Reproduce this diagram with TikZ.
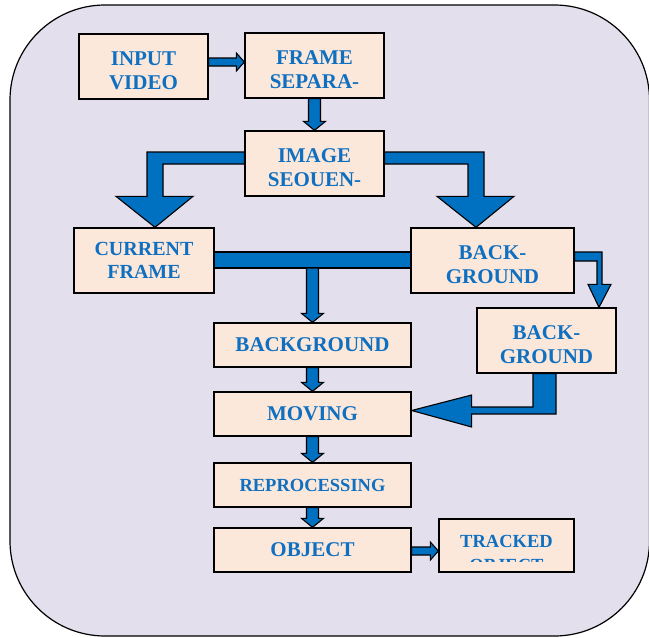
\documentclass[tikz,border=0pt]{standalone}
\usepackage{fontspec}
\setmainfont{Liberation Serif}
\usetikzlibrary{calc}
\definecolor{bgpurple}{HTML}{E4DFEC}
\definecolor{boxfill}{HTML}{FCE8DA}
\definecolor{arrblue}{HTML}{0070C0}
\definecolor{txtblue}{HTML}{0F6FC0}
\tikzset{
  box/.style={draw=black, line width=1.3pt, fill=boxfill, inner sep=0pt, align=center,
    text=txtblue, font=\fontsize{21}{24}\selectfont\bfseries},
  twoline/.style={text height=45pt, text depth=0pt},
  lbl/.style={inner sep=0pt, text=txtblue, font=\fontsize{18.5}{24}\selectfont\bfseries},
  blk/.style={draw=black, line width=1.1pt, fill=arrblue, line join=miter},
  frameout/.style={draw=black, line width=1.2pt, fill=bgpurple, rounded corners=95pt}
}
\newcommand\dnarrow[2]{\draw[blk] ($(#1)+(-6,0)$) -- ($(#1)+(6,0)$) -- ($(#2)+(6,-9)$) -- ($(#2)+(11,-9)$) -- (#2) -- ($(#2)+(-11,-9)$) -- ($(#2)+(-6,-9)$) -- cycle;}
\newcommand\rtarrow[3]{\draw[blk] ($(#1)+(0,#3-4)$) -- ($(#2 |- #1)+(-8,#3-4)$) -- ($(#2 |- #1)+(-8,#3-9)$) -- ($(#2 |- #1)+(0,#3)$) -- ($(#2 |- #1)+(-8,#3+9)$) -- ($(#2 |- #1)+(-8,#3+4)$) -- ($(#1)+(0,#3+4)$) -- cycle;}
\begin{document}
\begin{tikzpicture}[x=1pt,y=-1pt]
\useasboundingbox (0,0) rectangle (649,638);
\draw[frameout] (10,5) rectangle (649.5,636);

\node[box, twoline, minimum width=129pt, minimum height=65pt] (input) at (143.5,66.5) {INPUT\\VIDEO};
\node[box, twoline, minimum width=139pt, minimum height=65pt] (frame) at (314.5,65.5) {FRAME\\SEPARA-};
\node[box, twoline, minimum width=139pt, minimum height=65pt] (image) at (314.5,163.5) {IMAGE\\SEOUEN-};
\node[box, minimum width=140pt, minimum height=65pt, font=\fontsize{20}{23}\selectfont\bfseries] (current) at (144,260.5) {CURRENT\\FRAME};
\node[box, twoline, minimum width=163pt, minimum height=65pt] (bg1) at (492.5,260.5) {BACK-\\GROUND};
\node[box, twoline, minimum width=139pt, minimum height=65pt] (bg2) at (546.5,340.5) {BACK-\\GROUND};
\node[box, minimum width=197pt, minimum height=44pt] (bgc) at (312.5,345) {BACKGROUND};
\node[box, minimum width=197pt, minimum height=44pt] (moving) at (312.5,414) {MOVING};
\node[box, minimum width=197pt, minimum height=44pt, font=\fontsize{18.5}{22}\selectfont\bfseries] (repro) at (312.5,485) {REPROCESSING};
\node[box, minimum width=197pt, minimum height=44pt] (object) at (312.5,550) {OBJECT};
\node[box, minimum width=135pt, minimum height=53pt] (tracked) at (506.5,545.5) {};
\begin{scope}
  \clip (439,519) rectangle (574,561);
  \node[lbl, anchor=base] (trk1) at (506.5,547) {TRACKED};
  \node[lbl, anchor=base] (trk2) at (506.5,571) {OBJECT};
\end{scope}

% straight arrows
\rtarrow{input.east}{frame.west}{-4.5}
\dnarrow{frame.south}{image.north}
\dnarrow{bgc.south}{moving.north}
\dnarrow{moving.south}{repro.north}
\dnarrow{repro.south}{object.north}
\rtarrow{object.east}{tracked.west}{1}

% big elbow arrows
\draw[blk] ($(image.west)+(0,-11.5)$) -- ($(current.north |- image.west)+(3,-11.5)$) -- ($(current.north)+(3,-31)$) -- ($(current.north)+(-28,-31)$) -- ($(current.north)+(11,0)$) -- ($(current.north)+(49,-31)$) -- ($(current.north)+(19,-31)$) -- ($(current.north |- image.west)+(19,0.5)$) -- ($(image.west)+(0,0.5)$) -- cycle;
\draw[blk] ($(image.east)+(0,-11.5)$) -- ($(bg1.north |- image.east)+(-8.5,-11.5)$) -- ($(bg1.north)+(-8.5,-31)$) -- ($(bg1.north)+(21.5,-31)$) -- ($(bg1.north)+(-16.5,0)$) -- ($(bg1.north)+(-55.5,-31)$) -- ($(bg1.north)+(-24.5,-31)$) -- ($(bg1.north |- image.east)+(-24.5,0.5)$) -- ($(image.east)+(0,0.5)$) -- cycle;

% bar between current frame and background
\draw[blk] ($(current.east)+(0,-8.5)$) rectangle ($(bg1.west)+(0,7.5)$);
\coordinate (barmid) at ($(bgc.north |- current.east)+(0,7.5)$);
\dnarrow{barmid}{bgc.north}

% background -> background
\draw[blk] ($(bg1.east)+(0,-8.5)$) -- ($(bg2.north |- bg1.east)+(55.5,-8.5)$) -- ($(bg2.north)+(55.5,-23)$) -- ($(bg2.north)+(64.5,-23)$) -- ($(bg2.north)+(52.5,0)$) -- ($(bg2.north)+(41.5,-23)$) -- ($(bg2.north)+(50.5,-23)$) -- ($(bg2.north |- bg1.east)+(50.5,0.5)$) -- ($(bg1.east)+(0,0.5)$) -- cycle;

% background -> moving
\draw[blk] ($(bg2.south)+(-13.5,0)$) -- ($(bg2.south)+(9.5,0)$) -- ($(bg2.south |- moving.east)+(9.5,0)$) -- ($(moving.east)+(60,0)$) -- ($(moving.east)+(60,13)$) -- ($(moving.east)+(0,-3.5)$) -- ($(moving.east)+(60,-19)$) -- ($(moving.east)+(60,-7)$) -- ($(bg2.south |- moving.east)+(-13.5,-7)$) -- cycle;
\end{tikzpicture}
\end{document}
